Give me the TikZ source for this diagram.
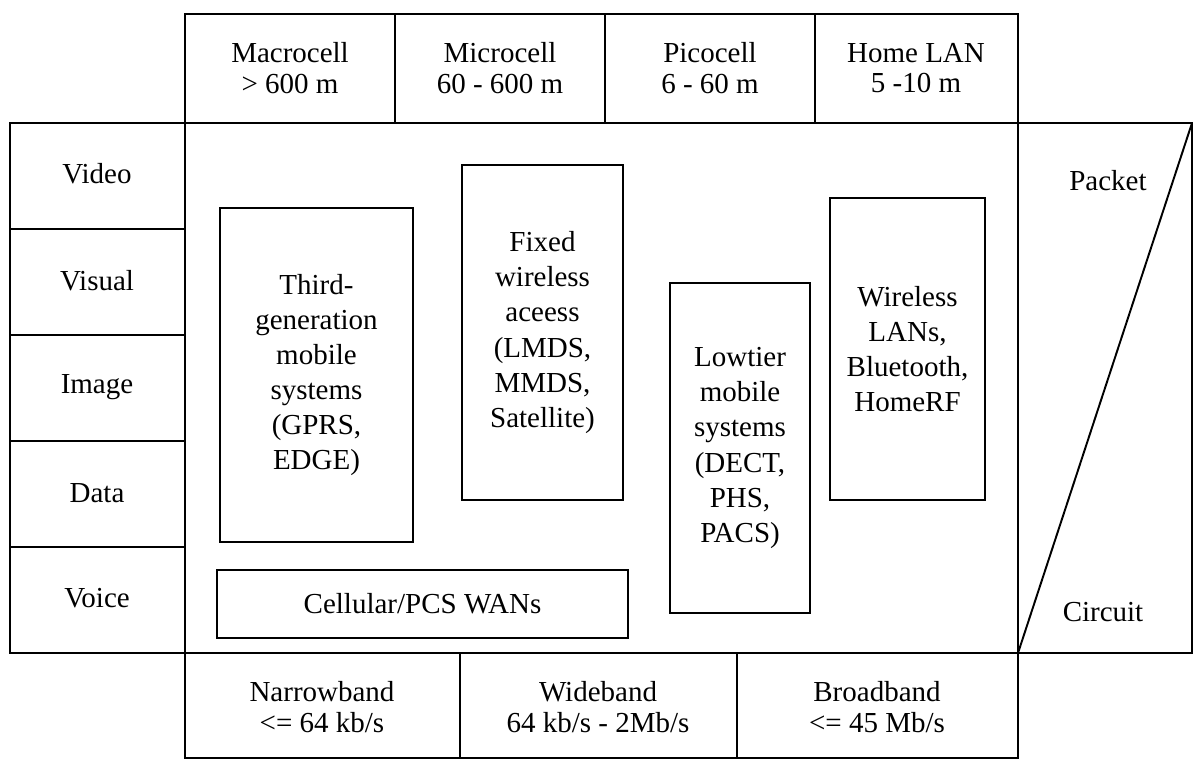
\documentclass[tikz,border=0pt]{standalone}
\usepackage{fontspec}
\setmainfont{Liberation Serif}
\usetikzlibrary{positioning}

\begin{document}
\begin{tikzpicture}[x=0.02cm, y=-0.02cm, line width=1.1pt]
    \tikzstyle{every node}=[font=\fontsize{16.5}{17.5}\selectfont, align=center]
    \tikzstyle{sysbox}=[draw, line width=1.1pt, inner sep=0pt,
                        font=\fontsize{16.5}{20}\selectfont]
      \useasboundingbox (0,0) rectangle (1196,766);

      \coordinate (TL) at (185,123);
      \coordinate (BR) at (1018,653);

      % draw frame
      \draw (TL) rectangle (BR);

      % cell sizes on top
      \draw (185,14) rectangle (1018,123);
      \foreach \x in {395,605,815}
        \draw (\x,14) -- (\x,123);
      \node (macro)   at (290,68) {Macrocell\\\textgreater{} 600 m};
      \node (micro)   at (500,68) {Microcell\\60 - 600 m};
      \node (pico)    at (710,68) {Picocell\\6 - 60 m};
      \node (homelan) at (916,68) {Home LAN\\5 -10 m};

      % traffic types on the left
      \draw (10,123) rectangle (185,653);
      \foreach \y in {229,335,441,547}
        \draw (10,\y) -- (185,\y);
      \node (video)  at (97,174) {Video};
      \node (visual) at (97,281) {Visual};
      \node (image)  at (97,387) {Image};
      \node (data)   at (97,493) {Data};
      \node (voice)  at (97,598) {Voice};

      % packet / circuit
      \draw (1018,123) rectangle (1192,653);
      \draw (BR) -- (1192,123);
      \node (packet)  at (1108,181) {Packet};
      \node (circuit) at (1103,612) {Circuit};

      % bandwidth at the bottom
      \draw (185,653) rectangle (1018,758);
      \foreach \x in {460,737}
        \draw (\x,653) -- (\x,758);
      \node (narrow) at (322,707) {Narrowband\\\textless= 64 kb/s};
      \node (wide)   at (598,707) {Wideband\\64 kb/s - 2Mb/s};
      \node (broad)  at (877,707) {Broadband\\\textless= 45 Mb/s};

      % systems inside
      \node[sysbox, minimum width=3.86cm, minimum height=6.68cm] (thirdgen)
        at (316.5,375) {Third-\\generation\\mobile\\systems\\(GPRS,\\EDGE)};
      \node[sysbox, minimum width=3.22cm, minimum height=6.7cm] (fixedwl)
        at (542.5,332.5) {Fixed\\wireless\\aceess\\(LMDS,\\MMDS,\\Satellite)};
      \node[sysbox, minimum width=2.8cm, minimum height=6.6cm] (lowtier)
        at (740,448) {Lowtier\\mobile\\systems\\(DECT,\\PHS,\\PACS)};
      \node[sysbox, minimum width=3.1cm, minimum height=6.04cm] (wlan)
        at (907.5,349) {Wireless\\LANs,\\Bluetooth,\\HomeRF};
      \node[sysbox, minimum width=8.22cm, minimum height=1.36cm] (cellular)
        at (422.5,604) {Cellular/PCS WANs};

\end{tikzpicture}
\end{document}
